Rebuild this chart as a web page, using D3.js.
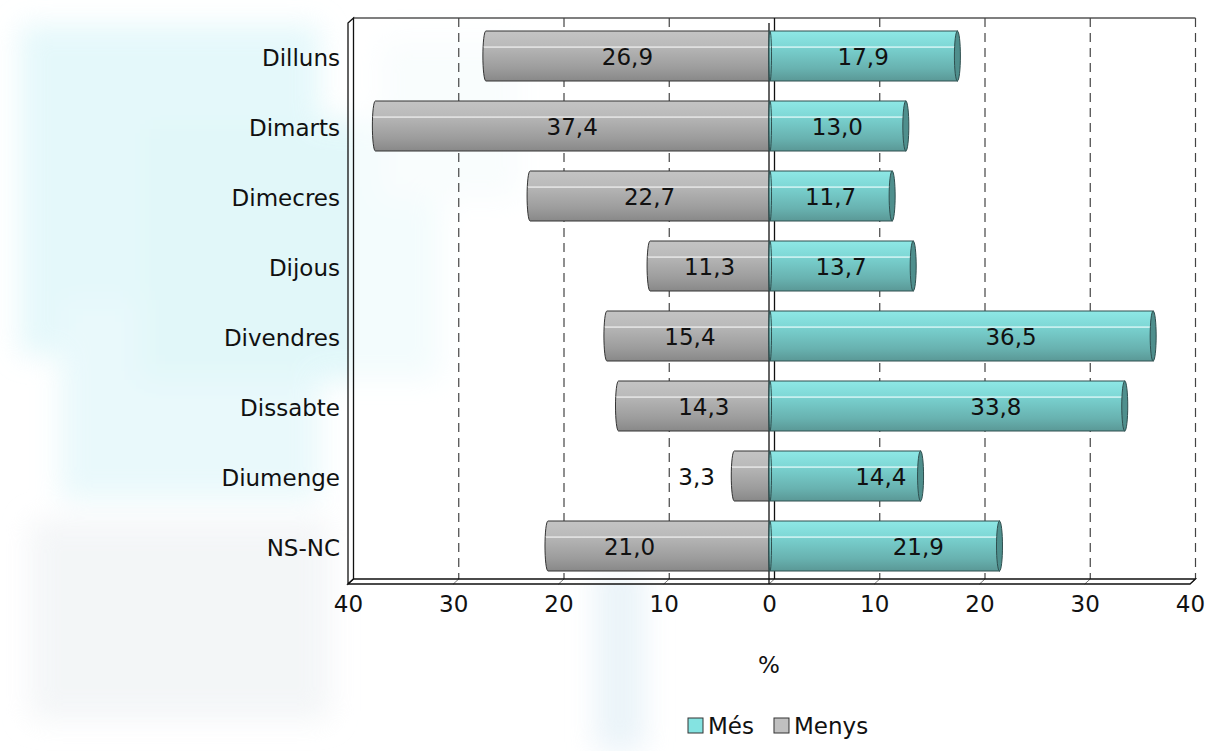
<!DOCTYPE html>
<html>
<head>
<meta charset="utf-8">
<script src="https://cdn.jsdelivr.net/npm/d3@7"></script>
<style>
  body { margin: 0; background: #fff; }
  svg { display: block; }
  text { font-family: "DejaVu Sans", Verdana, sans-serif; fill: #111; }
</style>
</head>
<body>
<div id="chart"></div>
<script>
// data
const categories = ["Dilluns", "Dimarts", "Dimecres", "Dijous", "Divendres", "Dissabte", "Diumenge", "NS-NC"];
const mes = [17.9, 13.0, 11.7, 13.7, 36.5, 33.8, 14.4, 21.9];
const menys = [26.9, 37.4, 22.7, 11.3, 15.4, 14.3, 3.3, 21.0];
const tickValues = [-40, -30, -20, -10, 0, 10, 20, 30, 40];
const seriesNames = ["Més", "Menys"];

// some labels were dragged by hand in the original (px)
const nudgeMes = [0, 0, 0, 0, 50, 49, 36, 34];
const nudgeMenys = [0, 0, 0, 0, 2, 10, -55, -29];

const width = 1209, height = 751;
const dx = 5.5, dy = -5;   // depth of the 3d box
const fontSize = 23;

const locale = d3.formatLocale({decimal: ",", thousands: ".", grouping: [3], currency: ["", "€"]});
const fmt = locale.format(".1f");

let svg = d3.select("#chart").append("svg")
  .attr("width", width)
  .attr("height", height);

let defs = svg.append("defs");

defs.append("filter").attr("id", "blur")
  .attr("filterUnits", "userSpaceOnUse")
  .attr("x", -100).attr("y", -100).attr("width", 1400).attr("height", 1000)
  .append("feGaussianBlur").attr("stdDeviation", 14);

const grad = (id, stops) => {
  let g = defs.append("linearGradient").attr("id", id)
    .attr("x1", 0).attr("y1", 0).attr("x2", 0).attr("y2", 1);
  stops.forEach(s => g.append("stop").attr("offset", s[0]).attr("stop-color", s[1]));
};
grad("gGrey", [[0, "#c4c4c4"], [0.3, "#bababa"], [0.32, "#f4f4f4"], [0.35, "#b4b4b4"], [0.75, "#9c9c9c"], [1, "#888"]]);
grad("gCyan", [[0, "#8ee8e6"], [0.3, "#7fd8d6"], [0.32, "#eefefe"], [0.35, "#78cfcd"], [0.75, "#68b2b0"], [1, "#5a9896"]]);

// soft background texture
let bg = svg.append("g").attr("filter", "url(#blur)").attr("opacity", 0.75);
bg.append("rect").attr("x", 20).attr("y", 25).attr("width", 300).attr("height", 330).attr("fill", "#dcf6f9");
bg.append("rect").attr("x", 60).attr("y", 300).attr("width", 260).attr("height", 200).attr("fill", "#e2f7fa");
bg.append("rect").attr("x", 140).attr("y", 120).attr("width", 300).attr("height", 260).attr("fill", "#d8f5f8");
bg.append("rect").attr("x", 30).attr("y", 520).attr("width", 300).attr("height", 200).attr("fill", "#f0f3f5");
bg.append("rect").attr("x", 595).attr("y", 560).attr("width", 50).attr("height", 191).attr("fill", "#e4f0f7");
bg.append("rect").attr("x", 380).attr("y", 40).attr("width", 140).attr("height", 160).attr("fill", "#ebf7f9");

let x = d3.scaleLinear().domain([-40, 40]).range([348, 1190]);
let y = d3.scaleBand().domain(categories).range([21, 581])
  .paddingInner(2 / 7).paddingOuter(1 / 7);

const backTop = 18, backBottom = 579;

// box
let box = svg.append("g");
box.append("rect")
  .attr("x", x(-40) + dx).attr("y", backTop)
  .attr("width", x(40) - x(-40)).attr("height", backBottom - backTop)
  .attr("fill", "#fff").attr("fill-opacity", 0.6);
box.append("line")
  .attr("x1", x(-40) + dx).attr("x2", x(40) + dx)
  .attr("y1", backTop).attr("y2", backTop)
  .attr("stroke", "#555").attr("stroke-width", 1.5);

// grid lines on the back wall
box.selectAll("line.grid")
  .data(tickValues.filter(t => t !== -40 && t !== 0))
  .enter().append("line")
  .attr("class", "grid")
  .attr("x1", d => x(d) + dx).attr("x2", d => x(d) + dx)
  .attr("y1", backTop).attr("y2", backBottom)
  .attr("stroke", "#444").attr("stroke-width", 1.2)
  .attr("stroke-dasharray", "9,6");

// small diagonals on the floor
box.selectAll("line.floor")
  .data(tickValues)
  .enter().append("line")
  .attr("class", "floor")
  .attr("x1", d => x(d) + dx).attr("y1", backBottom)
  .attr("x2", d => x(d)).attr("y2", backBottom - dy)
  .attr("stroke", "#222");

// left wall and floor
box.append("path")
  .attr("d", `M${x(-40)},${backTop - dy}L${x(-40) + dx},${backTop}L${x(-40) + dx},${backBottom}L${x(-40)},${backBottom - dy}Z`)
  .attr("fill", "#fff").attr("fill-opacity", 0.4)
  .attr("stroke", "#111").attr("stroke-width", 1.3);
box.append("path")
  .attr("d", `M${x(-40)},${backBottom - dy}L${x(-40) + dx},${backBottom}L${x(40) + dx},${backBottom}L${x(40)},${backBottom - dy}Z`)
  .attr("fill", "#fff").attr("fill-opacity", 0.4)
  .attr("stroke", "#111").attr("stroke-width", 1.3);

// zero lines (back and front)
box.append("line")
  .attr("x1", x(0) + dx).attr("x2", x(0) + dx)
  .attr("y1", backTop).attr("y2", backBottom)
  .attr("stroke", "#111").attr("stroke-width", 1.3);
box.append("line")
  .attr("x1", x(0)).attr("x2", x(0))
  .attr("y1", backTop - dy).attr("y2", backBottom - dy)
  .attr("stroke", "#111").attr("stroke-width", 1.3);

// bars
const capRx = 3;
let rows = categories.map((c, i) => ({cat: c, mes: mes[i], menys: menys[i], i: i}));

let bars = svg.append("g").attr("class", "bars");

// Menys: to the left of zero, with a rounded outer end
bars.selectAll("path.menys").data(rows).enter().append("path")
  .attr("class", "menys")
  .attr("d", d => {
    let x0 = x(-d.menys), x1 = x(0), t = y(d.cat), b = t + y.bandwidth();
    return `M${x1},${t}L${x0},${t}A${capRx},${y.bandwidth() / 2} 0 0 0 ${x0},${b}L${x1},${b}Z`;
  })
  .attr("fill", "url(#gGrey)")
  .attr("stroke", "#333").attr("stroke-width", 1);

// Més: to the right of zero
let gMes = bars.selectAll("g.mes").data(rows).enter().append("g").attr("class", "mes");
gMes.append("rect")
  .attr("x", x(0))
  .attr("y", d => y(d.cat))
  .attr("width", d => x(d.mes) - x(0))
  .attr("height", y.bandwidth())
  .attr("fill", "url(#gCyan)")
  .attr("stroke", "#2f4f4f").attr("stroke-width", 1);
gMes.append("ellipse")
  .attr("cx", d => x(d.mes))
  .attr("cy", d => y(d.cat) + y.bandwidth() / 2)
  .attr("rx", capRx).attr("ry", y.bandwidth() / 2)
  .attr("fill", "#4f8f8d")
  .attr("stroke", "#2f4f4f").attr("stroke-width", 1);
gMes.append("ellipse")
  .attr("cx", x(0) + 1)
  .attr("cy", d => y(d.cat) + y.bandwidth() / 2)
  .attr("rx", 1.5).attr("ry", y.bandwidth() / 2)
  .attr("fill", "none")
  .attr("stroke", "#2f4f4f").attr("stroke-width", 1);

// value labels
bars.selectAll("text.lmenys").data(rows).enter().append("text")
  .attr("class", "lmenys")
  .attr("x", d => (x(-d.menys) + x(0)) / 2 + nudgeMenys[d.i])
  .attr("y", d => y(d.cat) + y.bandwidth() / 2 + 9)
  .attr("text-anchor", "middle")
  .style("font-size", fontSize + "px")
  .text(d => fmt(d.menys));
bars.selectAll("text.lmes").data(rows).enter().append("text")
  .attr("class", "lmes")
  .attr("x", d => (x(d.mes) + x(0)) / 2 + nudgeMes[d.i])
  .attr("y", d => y(d.cat) + y.bandwidth() / 2 + 9)
  .attr("text-anchor", "middle")
  .style("font-size", fontSize + "px")
  .text(d => fmt(d.mes));

// category axis
let yAxis = svg.append("g")
  .attr("transform", `translate(${x(-40) - 4},${(dy / -2)})`)
  .call(d3.axisLeft(y).tickSize(0).tickPadding(4));
yAxis.select(".domain").remove();
yAxis.selectAll("text")
  .style("font-size", fontSize + "px")
  .style("font-family", '"DejaVu Sans", Verdana, sans-serif')
  .attr("fill", "#111");

// value axis
let xAxis = svg.append("g")
  .attr("transform", `translate(0,${backBottom - dy})`)
  .call(d3.axisBottom(x).tickValues(tickValues).tickSize(0).tickPadding(12)
    .tickFormat(d => Math.abs(d)));
xAxis.select(".domain").remove();
xAxis.selectAll("text")
  .style("font-size", fontSize + "px")
  .style("font-family", '"DejaVu Sans", Verdana, sans-serif')
  .attr("fill", "#111");

svg.append("text")
  .attr("x", x(0))
  .attr("y", 673)
  .attr("text-anchor", "middle")
  .style("font-size", fontSize + "px")
  .text("%");

// legend
const legendColors = ["#84e3e1", "#c0c0c0"];
let legend = svg.append("g").attr("transform", "translate(688,718)");
let lx = 0;
seriesNames.forEach((name, i) => {
  legend.append("rect")
    .attr("x", lx).attr("y", 0)
    .attr("width", 15).attr("height", 15)
    .attr("fill", legendColors[i])
    .attr("stroke", "#333").attr("stroke-width", 1);
  let t = legend.append("text")
    .attr("x", lx + 20).attr("y", 16)
    .style("font-size", fontSize + "px")
    .text(name);
  lx += 20 + t.node().getComputedTextLength() + 20;
});
</script>
</body>
</html>
